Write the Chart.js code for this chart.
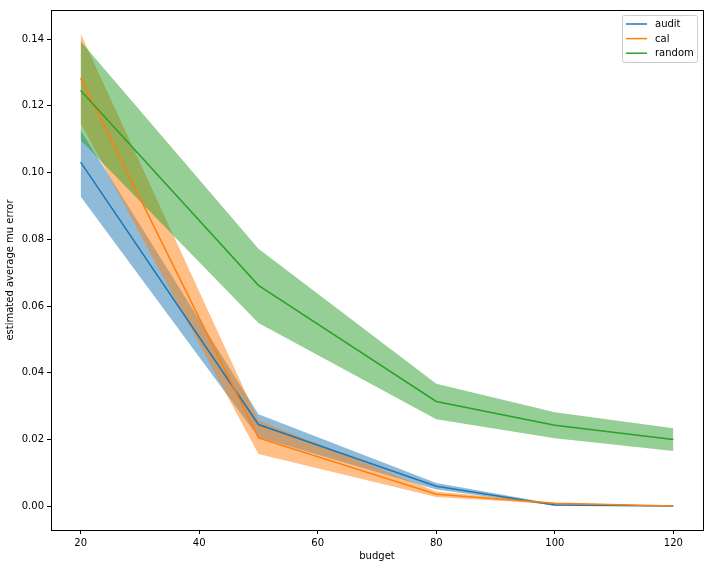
<!DOCTYPE html>
<html>
<head>
<meta charset="utf-8">
<script src="https://cdn.jsdelivr.net/npm/chart.js@4/dist/chart.umd.min.js"></script>
<style>
  html, body { margin: 0; padding: 0; background: #fff; }
  #wrap { width: 712px; height: 568px; }
</style>
</head>
<body>
<div id="wrap"><canvas id="c" width="712" height="568"></canvas></div>
<script>
const budgets = [20, 50, 80, 100, 120];
const xTicks = [20, 40, 60, 80, 100, 120];
const yTicks = [0.00, 0.02, 0.04, 0.06, 0.08, 0.10, 0.12, 0.14];

const auditMean = [0.1031, 0.0245, 0.0060, 0.0004, 0.0001];
const auditLow  = [0.0928, 0.0207, 0.0050, 0.0002, 0.0000];
const auditHigh = [0.1127, 0.0276, 0.0070, 0.0007, 0.0002];

const calMean = [0.1283, 0.0205, 0.0036, 0.0009, 0.0001];
const calLow  = [0.1148, 0.0157, 0.0028, 0.0006, 0.0000];
const calHigh = [0.1416, 0.0258, 0.0044, 0.0011, 0.0002];

const randomMean = [0.1246, 0.0662, 0.0314, 0.0243, 0.0200];
const randomLow  = [0.1097, 0.0549, 0.0261, 0.0204, 0.0166];
const randomHigh = [0.1393, 0.0772, 0.0367, 0.0282, 0.0234];

const seriesNames = ['audit', 'cal', 'random'];
const colors = ['#1f77b4', '#ff7f0e', '#2ca02c'];
const fills = ['rgba(31,119,180,0.5)', 'rgba(255,127,14,0.5)', 'rgba(44,160,44,0.5)'];

const pts = arr => budgets.map((b, i) => ({ x: b, y: arr[i] }));
const means = [auditMean, calMean, randomMean];
const lows = [auditLow, calLow, randomLow];
const highs = [auditHigh, calHigh, randomHigh];

const datasets = [];
for (let s = 0; s < 3; s++) {
  datasets.push({
    label: seriesNames[s], data: pts(means[s]), borderColor: colors[s],
    borderWidth: 1.5, pointRadius: 0, fill: false, order: 3 - s, tension: 0
  });
}
for (let s = 0; s < 3; s++) {
  datasets.push({
    label: seriesNames[s] + ' low', data: pts(lows[s]), borderWidth: 0,
    borderColor: 'rgba(0,0,0,0)', pointRadius: 0, fill: false, order: 30 - s * 10
  });
  datasets.push({
    label: seriesNames[s] + ' high', data: pts(highs[s]), borderWidth: 0,
    borderColor: 'rgba(0,0,0,0)', backgroundColor: fills[s], pointRadius: 0,
    fill: '-1', order: 30 - s * 10
  });
}

const FONT = { family: 'DejaVu Sans', size: 10 };

const framePlugin = {
  id: 'frame',
  afterDraw(chart) {
    const { ctx, chartArea: a } = chart;
    ctx.save();
    ctx.strokeStyle = '#000';
    ctx.lineWidth = 1;
    ctx.strokeRect(Math.round(a.left) + 0.5, Math.round(a.top) + 0.5,
      Math.round(a.right - a.left), Math.round(a.bottom - a.top));
    // legend box (matplotlib style, upper right)
    const bx = 622.5, by = 15.5, bw = 75, bh = 47;
    ctx.fillStyle = 'rgba(255,255,255,0.8)';
    ctx.strokeStyle = '#cccccc';
    ctx.beginPath();
    const r = 2;
    ctx.moveTo(bx + r, by);
    ctx.lineTo(bx + bw - r, by); ctx.quadraticCurveTo(bx + bw, by, bx + bw, by + r);
    ctx.lineTo(bx + bw, by + bh - r); ctx.quadraticCurveTo(bx + bw, by + bh, bx + bw - r, by + bh);
    ctx.lineTo(bx + r, by + bh); ctx.quadraticCurveTo(bx, by + bh, bx, by + bh - r);
    ctx.lineTo(bx, by + r); ctx.quadraticCurveTo(bx, by, bx + r, by);
    ctx.closePath(); ctx.fill(); ctx.stroke();
    ctx.font = '10px "DejaVu Sans"';
    ctx.textBaseline = 'middle';
    ctx.textAlign = 'left';
    for (let s = 0; s < 3; s++) {
      const ds = chart.data.datasets[s];
      const y = 24 + s * 14.6;
      ctx.strokeStyle = ds.borderColor;
      ctx.lineWidth = 1.5;
      ctx.beginPath(); ctx.moveTo(626, y); ctx.lineTo(647, y); ctx.stroke();
      ctx.fillStyle = '#000';
      ctx.fillText(ds.label, 655, y + 0.5);
    }
    ctx.restore();
  }
};

new Chart(document.getElementById('c'), {
  type: 'line',
  data: { datasets },
  options: {
    responsive: false,
    animation: false,
    devicePixelRatio: 1,
    layout: { padding: { top: 10, right: 9, left: 0, bottom: 0 } },
    plugins: {
      legend: { display: false },
      tooltip: { enabled: false },
      filler: { drawTime: 'beforeDatasetsDraw', propagate: false }
    },
    scales: {
      x: {
        type: 'linear', min: 15, max: 125,
        afterBuildTicks: sc => { sc.ticks = xTicks.map(v => ({ value: v })); },
        afterFit: sc => { sc.height = 38; },
        grid: { drawOnChartArea: false, drawTicks: true, tickLength: 4, color: '#000' },
        border: { display: true, color: '#000' },
        ticks: { font: FONT, color: '#000', padding: 3, maxRotation: 0, callback: v => String(v) },
        title: { display: true, text: 'budget', font: FONT, color: '#000', padding: { top: 3, bottom: 6 } }
      },
      y: {
        type: 'linear', min: -0.0071, max: 0.1487,
        afterBuildTicks: sc => { sc.ticks = yTicks.map(v => ({ value: v })); },
        afterFit: sc => { sc.width = 51; },
        grid: { drawOnChartArea: false, drawTicks: true, tickLength: 4, color: '#000' },
        border: { display: true, color: '#000' },
        ticks: { font: FONT, color: '#000', padding: 3, callback: v => Number(v).toFixed(2) },
        title: { display: true, text: 'estimated average mu error', font: FONT, color: '#000', padding: { top: 4, bottom: 4 } }
      }
    }
  },
  plugins: [framePlugin]
});
</script>
</body>
</html>
